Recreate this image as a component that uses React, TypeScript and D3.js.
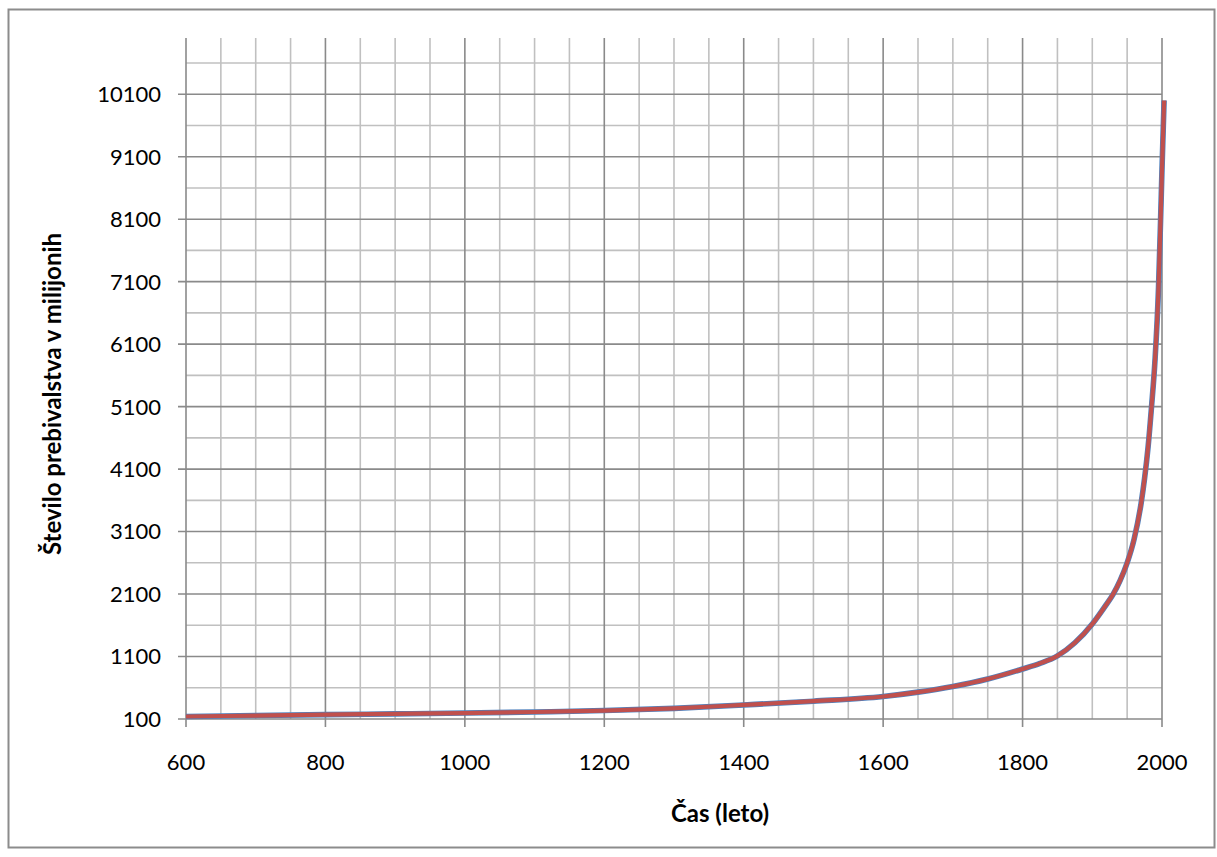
import React from "react";
import * as d3 from "d3";

const years = [600, 700, 800, 900, 1000, 1100, 1200, 1300, 1400, 1500, 1600, 1650, 1700, 1750, 1800, 1825, 1850, 1875, 1900, 1910, 1920, 1930, 1940, 1950, 1960, 1970, 1975, 1980, 1985, 1990, 1995, 1998, 2000, 2003];
const populationData = [140, 155, 170, 182, 195, 212, 235, 270, 325, 385, 460, 530, 620, 740, 900, 990, 1110, 1320, 1620, 1770, 1930, 2100, 2320, 2600, 2980, 3550, 3950, 4450, 5100, 5850, 7000, 8100, 8900, 10000];
const populationModel = [140, 155, 170, 182, 195, 212, 235, 270, 325, 385, 460, 530, 620, 740, 900, 990, 1110, 1320, 1620, 1770, 1930, 2100, 2320, 2600, 2980, 3550, 3950, 4450, 5100, 5850, 7000, 8100, 8900, 10000];

const xTicks = [600, 800, 1000, 1200, 1400, 1600, 1800, 2000];
const yTicks = [100, 1100, 2100, 3100, 4100, 5100, 6100, 7100, 8100, 9100, 10100];
const xMinor = d3.range(600, 2001, 50);
const yMinor = d3.range(100, 10700, 500);

const xTitle = "Čas (leto)";
const yTitle = "Število prebivalstva v milijonih";

const W = 1217;
const H = 857;
const left = 186, right = 1162, top = 38, bottom = 719;
const font = "Lato, 'Open Sans', sans-serif";

export default function App() {
  const x = d3.scaleLinear().domain([600, 2000]).range([left, right]);
  const y = d3.scaleLinear().domain([100, 11000]).range([bottom, top]);
  const line = d3
    .line<number>()
    .x((_, i) => x(years[i]))
    .y((d) => y(d))
    .curve(d3.curveMonotoneX);

  return (
    <svg width={W} height={H} style={{ position: "absolute", left: 0, top: 0, background: "#fff" }}>
      <rect x={8.5} y={9.5} width={1206} height={838} fill="#fff" stroke="#8c8c8c" strokeWidth={2} />
      {/* minor grid */}
      {xMinor.filter((v) => !xTicks.includes(v)).map((v) => (
        <line key={"xm" + v} x1={x(v)} x2={x(v)} y1={top} y2={bottom} stroke="#c0c0c0" strokeWidth={1.6} />
      ))}
      {yMinor.filter((v) => !yTicks.includes(v)).map((v) => (
        <line key={"ym" + v} x1={left} x2={right} y1={y(v)} y2={y(v)} stroke="#c0c0c0" strokeWidth={1.6} />
      ))}
      {/* major grid */}
      {xTicks.map((v) => (
        <line key={"xM" + v} x1={x(v)} x2={x(v)} y1={top} y2={bottom + 8} stroke="#8a8a8a" strokeWidth={1.6} />
      ))}
      {yTicks.map((v) => (
        <line key={"yM" + v} x1={left - 8} x2={right} y1={y(v)} y2={y(v)} stroke="#8a8a8a" strokeWidth={1.6} />
      ))}
      {/* series */}
      <path d={line(populationData) ?? ""} fill="none" stroke="#4F81BD" strokeWidth={5.6} strokeLinejoin="round" />
      <path d={line(populationModel) ?? ""} fill="none" stroke="#C0504D" strokeWidth={4.2} strokeLinejoin="round" />
      {/* tick labels */}
      {xTicks.map((v) => (
        <text key={"xt" + v} x={x(v)} y={770} textAnchor="middle" fontFamily={font} fontSize={22} fill="#000">
          {v}
        </text>
      ))}
      {yTicks.map((v) => (
        <text key={"yt" + v} x={161} y={y(v)} dy="0.36em" textAnchor="end" fontFamily={font} fontSize={22} fill="#000">
          {v}
        </text>
      ))}
      <text x={720} y={822} textAnchor="middle" fontFamily={font} fontSize={24} fontWeight="bold" fill="#000">
        {xTitle}
      </text>
      <text
        transform={`translate(61, 394) rotate(-90)`}
        textAnchor="middle"
        fontFamily={font}
        fontSize={24}
        fontWeight="bold"
        fill="#000"
      >
        {yTitle}
      </text>
    </svg>
  );
}
